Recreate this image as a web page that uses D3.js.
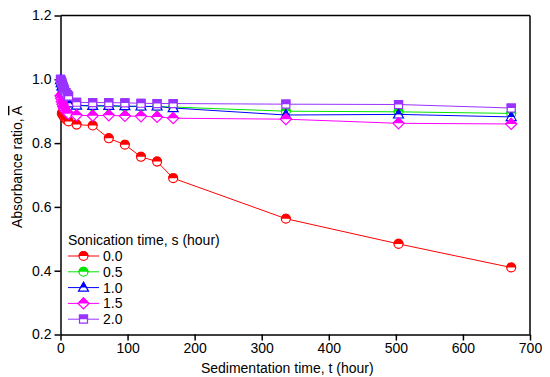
<!DOCTYPE html>
<html>
<head>
<meta charset="utf-8">
<script src="https://cdn.jsdelivr.net/npm/d3@7"></script>
<style>
    body { margin: 0; background: #fff; }
    svg { font-family: "Liberation Sans", Arial, sans-serif; }
    .axis text { font-size: 14px; fill: #000; }
    .axis path, .axis line { stroke: #000; stroke-width: 1.5px; }
</style>
</head>
<body>
<div id="chart"></div>
<script>
// sonication series (hours) and colours
const seriesNames = ["0.0", "0.5", "1.0", "1.5", "2.0"];
const seriesColors = ["#ff0000", "#00e600", "#0000ff", "#ff00ff", "#9933ff"];
const seriesShapes = ["circle", "circle", "triangle", "diamond", "square"];

// sedimentation times (hour)
const timesRed = [2, 3, 4, 5, 6, 8, 10, 12, 24, 48, 72, 96, 120, 144, 168, 336, 504, 672];
const timesOther = [0, 1, 2, 3, 4, 5, 6, 8, 10, 12, 24, 48, 72, 96, 120, 144, 168, 336, 504, 672];

// absorbance ratio values
const values00 = [0.893, 0.89, 0.886, 0.883, 0.88, 0.876, 0.872, 0.868, 0.858, 0.855, 0.815, 0.795, 0.757, 0.742, 0.69, 0.563, 0.484, 0.41];
const values05 = [0.995, 0.985, 0.975, 0.965, 0.958, 0.95, 0.945, 0.937, 0.93, 0.926, 0.918, 0.916, 0.916, 0.915, 0.915, 0.914, 0.913, 0.9, 0.898, 0.893];
const values10 = [0.998, 0.988, 0.978, 0.968, 0.96, 0.952, 0.946, 0.938, 0.93, 0.925, 0.918, 0.917, 0.917, 0.916, 0.915, 0.915, 0.91, 0.888, 0.89, 0.882];
const values15 = [0.948, 0.94, 0.93, 0.922, 0.915, 0.91, 0.905, 0.9, 0.895, 0.892, 0.887, 0.886, 0.887, 0.885, 0.884, 0.882, 0.878, 0.875, 0.862, 0.86];
const values20 = [1.0, 0.995, 0.99, 0.983, 0.976, 0.97, 0.965, 0.958, 0.952, 0.947, 0.928, 0.927, 0.927, 0.926, 0.925, 0.924, 0.924, 0.922, 0.921, 0.91];

const xTicks = [0, 100, 200, 300, 400, 500, 600, 700];
const yTicks = [0.2, 0.4, 0.6, 0.8, 1.0, 1.2];

const width = 550, height = 377;
const margin = { left: 60.5, right: 20, top: 15.5, bottom: 42.5 };
const plotW = width - margin.left - margin.right;
const plotH = height - margin.top - margin.bottom;

const series = [
    { name: seriesNames[0], times: timesRed, values: values00 },
    { name: seriesNames[1], times: timesOther, values: values05 },
    { name: seriesNames[2], times: timesOther, values: values10 },
    { name: seriesNames[3], times: timesOther, values: values15 },
    { name: seriesNames[4], times: timesOther, values: values20 }
].map((s, i) => ({
    ...s,
    color: seriesColors[i],
    shape: seriesShapes[i],
    points: s.times.map((t, j) => ({ t: t, v: s.values[j] }))
}));

const svg = d3.select("#chart").append("svg")
    .attr("width", width)
    .attr("height", height);

const g = svg.append("g")
    .attr("transform", `translate(${margin.left}, ${margin.top})`);

const xScale = d3.scaleLinear().domain([0, 700]).range([0, plotW]);
const yScale = d3.scaleLinear().domain([0.2, 1.2]).range([plotH, 0]);

// half-filled markers: clip for top half
svg.append("defs").append("clipPath")
    .attr("id", "topHalf")
    .append("rect")
    .attr("x", -10).attr("y", -10)
    .attr("width", 20).attr("height", 10);

// marker outlines, centred on 0,0
const markerPaths = {
    circle: d3.symbol().type(d3.symbolCircle).size(62)(),
    triangle: "M0,-5.2L5,3.6L-5,3.6Z",
    diamond: "M0,-5.5L5.5,0L0,5.5L-5.5,0Z",
    square: "M-4,-4L4,-4L4,4L-4,4Z"
};

function drawMarker(sel, s) {
    const path = markerPaths[s.shape];
    sel.append("path")
        .attr("d", path)
        .attr("fill", "#fff")
        .attr("stroke", s.color)
        .attr("stroke-width", 1.2);
    sel.append("path")
        .attr("d", path)
        .attr("fill", s.color)
        .attr("stroke", s.color)
        .attr("stroke-width", 1.2)
        .attr("clip-path", "url(#topHalf)");
}

// axes
g.append("g")
    .attr("class", "axis")
    .attr("transform", `translate(0, ${plotH})`)
    .call(d3.axisBottom(xScale).tickValues(xTicks).tickSize(6).tickSizeOuter(0).tickPadding(3));

g.append("g")
    .attr("class", "axis")
    .call(d3.axisLeft(yScale).tickValues(yTicks).tickFormat(d3.format(".1f")).tickSize(6).tickSizeOuter(0).tickPadding(3));

// frame top and right
g.append("line").attr("x1", 0).attr("x2", plotW).attr("y1", 0).attr("y2", 0)
    .attr("stroke", "#000").attr("stroke-width", 1.5);
g.append("line").attr("x1", plotW).attr("x2", plotW).attr("y1", 0).attr("y2", plotH)
    .attr("stroke", "#000").attr("stroke-width", 1.5);

// lines and markers
const line = d3.line()
    .x(d => xScale(d.t))
    .y(d => yScale(d.v));

for (const s of series) {
    g.append("path")
        .attr("d", line(s.points))
        .attr("fill", "none")
        .attr("stroke", s.color)
        .attr("stroke-width", 1);

    g.selectAll(null)
        .data(s.points)
        .enter()
        .append("g")
        .attr("transform", d => `translate(${xScale(d.t)}, ${yScale(d.v)})`)
        .each(function () { drawMarker(d3.select(this), s); });
}

// axis titles
svg.append("text")
    .attr("x", margin.left + plotW / 2 - 8)
    .attr("y", 373)
    .attr("text-anchor", "middle")
    .style("font-size", "14px")
    .text("Sedimentation time, t (hour)");

const yTitle = svg.append("text")
    .attr("transform", `translate(22, ${margin.top + plotH / 2 - 8}) rotate(-90)`)
    .attr("text-anchor", "middle")
    .style("font-size", "14px");
yTitle.append("tspan").text("Absorbance ratio, ");
yTitle.append("tspan").style("text-decoration", "overline").text("A");

// legend
const legend = svg.append("g")
    .attr("transform", "translate(68, 245)");

legend.append("text")
    .attr("x", 0)
    .attr("y", 0)
    .style("font-size", "14px")
    .text("Sonication time, s (hour)");

series.forEach((s, i) => {
    const row = legend.append("g")
        .attr("transform", `translate(0, ${11 + i * 15.8})`);
    row.append("line")
        .attr("x1", 0).attr("x2", 31)
        .attr("y1", 0).attr("y2", 0)
        .attr("stroke", s.color).attr("stroke-width", 1);
    drawMarker(row.append("g").attr("transform", "translate(15.5, 0)"), s);
    row.append("text")
        .attr("x", 35)
        .attr("y", 5)
        .style("font-size", "14px")
        .text(s.name);
});
</script>
</body>
</html>
